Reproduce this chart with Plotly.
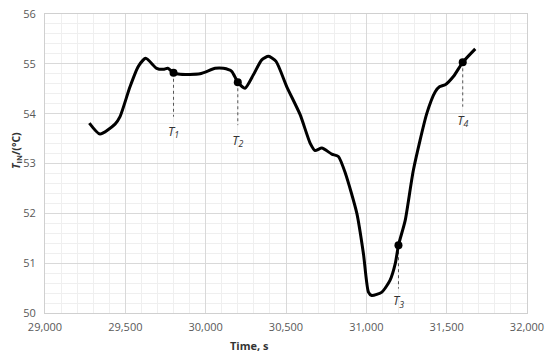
import plotly.graph_objects as go

# Curve data
time_s = [29276, 29342, 29436, 29467, 29529, 29581, 29627, 29695, 29737, 29764, 29800,
          29841, 29965, 30059, 30110, 30162, 30200, 30245, 30297, 30349, 30391, 30438,
          30505, 30588, 30650, 30681, 30723, 30785, 30826, 30870, 30941, 30982, 31013,
          31034, 31097, 31148, 31180, 31200, 31242, 31293, 31377, 31429, 31455, 31491,
          31543, 31600, 31678]
t_in = [53.81, 53.59, 53.79, 53.94, 54.54, 54.95, 55.11, 54.91, 54.89, 54.91, 54.82,
        54.79, 54.80, 54.91, 54.91, 54.85, 54.63, 54.51, 54.78, 55.08, 55.15, 55.05,
        54.54, 53.98, 53.41, 53.26, 53.31, 53.19, 53.14, 52.80, 52.00, 51.19, 50.42,
        50.35, 50.42, 50.66, 50.99, 51.36, 51.86, 52.87, 54.01, 54.44, 54.54, 54.58,
        54.75, 55.03, 55.30]

# Marked points
mark_names = ["1", "2", "3", "4"]
mark_time = [29800, 30200, 31200, 31600]
mark_val = [54.82, 54.63, 51.36, 55.03]
leader_end = [53.94, 53.77, 50.49, 54.14]
label_val = [53.62, 53.44, 50.22, 53.84]

x_ticks = [29000, 29500, 30000, 30500, 31000, 31500, 32000]
y_ticks = [50, 51, 52, 53, 54, 55, 56]

W, H = 550, 353
ML, MR, MT, MB = 45, 23, 14, 40
pw, ph = W - ML - MR, H - MT - MB

def px_to_paper_x(px):
    return (px - ML) / pw

def px_to_paper_y(py):
    return (H - MB - py) / ph

fig = go.Figure()
for xt, y0, y1 in zip(mark_time, mark_val, leader_end):
    fig.add_trace(go.Scatter(x=[xt, xt], y=[y0, y1], mode="lines",
                             line=dict(color="#555555", width=1, dash="dot"),
                             showlegend=False, hoverinfo="skip"))
fig.add_trace(go.Scatter(x=time_s, y=t_in, mode="lines",
                         line=dict(color="black", width=3, shape="spline", smoothing=0.6),
                         showlegend=False))
fig.add_trace(go.Scatter(x=mark_time, y=mark_val, mode="markers",
                         marker=dict(color="black", size=8), showlegend=False))
fig.add_trace(go.Scatter(x=mark_time, y=label_val, mode="text",
                         text=[f"<i>T<sub>{n}</sub></i>" for n in mark_names],
                         textfont=dict(family="Open Sans", size=12.5, color="#333333"),
                         showlegend=False))

axis_font = dict(family="Open Sans", size=11, color="#595959")
fig.update_layout(
    width=W, height=H,
    margin=dict(l=ML, r=MR, t=MT, b=MB),
    plot_bgcolor="white", paper_bgcolor="white",
    xaxis=dict(range=[29000, 32000], tickvals=x_ticks,
               ticktext=[f"{v:,}" for v in x_ticks], automargin=False,
               ticklabeloverflow="allow",
               tickfont=axis_font, showgrid=True, gridcolor="#d9d9d9", gridwidth=1,
               minor=dict(dtick=100, showgrid=True, gridcolor="#efefef"),
               showline=True, linecolor="#d0d0d0", mirror=True, zeroline=False,
               ticks="", ticklabelstandoff=4),
    yaxis=dict(range=[50, 56], tickvals=y_ticks, tickfont=axis_font, automargin=False,
               ticklabeloverflow="allow",
               showgrid=True, gridcolor="#d9d9d9", gridwidth=1,
               minor=dict(dtick=0.2, showgrid=True, gridcolor="#efefef"),
               showline=True, linecolor="#d0d0d0", mirror=True, zeroline=False,
               ticks="", ticklabelstandoff=6),
    annotations=[
        dict(text="<b>Time, s</b>", x=px_to_paper_x(249), y=px_to_paper_y(345),
             xref="paper", yref="paper", xanchor="center", yanchor="middle",
             showarrow=False, font=dict(family="Open Sans", size=11, color="#333333")),
        dict(text="<b><i>T</i><sub>IN</sub>/(°C)</b>", x=px_to_paper_x(16),
             y=px_to_paper_y(151), xref="paper", yref="paper", textangle=-90,
             xanchor="center", yanchor="middle",
             showarrow=False, font=dict(family="Open Sans", size=10.5, color="#333333")),
    ],
)

fig.write_html("out.html", config={"displayModeBar": False},
               post_script="document.body.style.margin='0';document.body.style.padding='0';")
